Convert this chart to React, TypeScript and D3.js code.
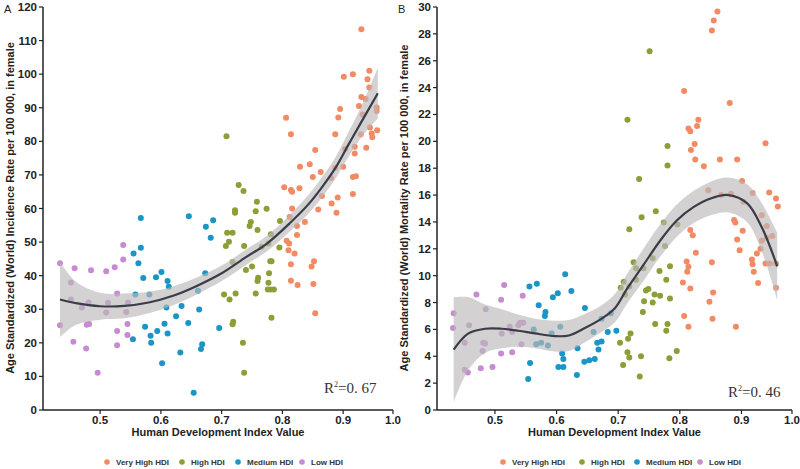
import React from "react";
import * as d3 from "d3";

const groupNames = ["Very High HDI", "High HDI", "Medium HDI", "Low HDI"];
const groupColors = ["#f28a64", "#8b9e37", "#1a95c6", "#c68bd0"];

// Panel A: incidence, female
const incVeryHighHdi = [0.930, 0.901, 0.916, 0.943, 0.940, 0.943, 0.930, 0.937, 0.895, 0.926, 0.955, 0.955, 0.892, 0.932, 0.806, 0.814, 0.887, 0.929, 0.944, 0.956, 0.947, 0.948, 0.938, 0.919, 0.903, 0.854, 0.919, 0.845, 0.829, 0.863, 0.850, 0.887, 0.900, 0.916, 0.921, 0.803, 0.814, 0.816, 0.828, 0.880, 0.865, 0.891, 0.881, 0.916, 0.859, 0.816, 0.837, 0.824, 0.812, 0.889, 0.824, 0.807, 0.811, 0.810, 0.820, 0.814, 0.852, 0.848, 0.814, 0.825, 0.851, 0.854];
const incVeryHighRate = [113.4, 99.2, 100.0, 101.0, 98.5, 96.0, 93.2, 92.6, 89.6, 90.5, 90.1, 89.0, 87.1, 88.0, 87.0, 82.1, 82.1, 82.1, 84.1, 83.3, 82.3, 81.2, 78.1, 78.4, 77.7, 77.4, 76.4, 73.2, 72.4, 70.9, 69.4, 72.1, 72.4, 69.4, 69.6, 66.3, 65.5, 65.0, 66.0, 69.1, 63.7, 63.3, 61.5, 64.3, 59.7, 60.0, 56.0, 54.8, 57.5, 58.7, 52.1, 50.4, 49.6, 47.6, 46.6, 43.4, 44.3, 42.7, 38.5, 37.2, 37.5, 28.8];
const incHighHdi = [0.708, 0.728, 0.736, 0.758, 0.722, 0.722, 0.756, 0.774, 0.796, 0.781, 0.746, 0.748, 0.759, 0.709, 0.718, 0.712, 0.707, 0.737, 0.766, 0.777, 0.795, 0.718, 0.740, 0.750, 0.780, 0.782, 0.760, 0.759, 0.778, 0.777, 0.776, 0.781, 0.786, 0.704, 0.713, 0.723, 0.756, 0.719, 0.718, 0.782, 0.735, 0.737];
const incHighRate = [81.5, 67.0, 65.2, 62.0, 59.5, 58.7, 59.2, 59.9, 56.3, 52.3, 54.8, 56.0, 53.6, 52.8, 52.8, 50.1, 48.8, 48.8, 48.6, 49.6, 48.4, 44.1, 41.7, 42.7, 44.3, 44.3, 39.4, 38.4, 40.7, 37.9, 35.9, 35.9, 35.9, 34.4, 32.9, 34.7, 34.7, 26.3, 25.5, 27.5, 20.0, 11.1];
const incMediumHdi = [0.567, 0.555, 0.567, 0.563, 0.571, 0.592, 0.601, 0.611, 0.613, 0.558, 0.581, 0.609, 0.634, 0.625, 0.574, 0.583, 0.594, 0.606, 0.611, 0.554, 0.584, 0.602, 0.632, 0.645, 0.663, 0.661, 0.673, 0.646, 0.674, 0.682, 0.686, 0.668, 0.666, 0.654, 0.696];
const incMediumRate = [57.2, 46.6, 48.3, 43.7, 39.3, 39.5, 41.1, 38.4, 36.7, 34.4, 34.4, 30.5, 31.0, 27.9, 24.8, 22.1, 23.5, 25.7, 22.8, 21.1, 20.0, 13.9, 17.1, 25.9, 29.9, 35.5, 40.7, 57.7, 54.6, 51.3, 56.5, 19.6, 18.2, 5.1, 24.4];
const incLowHdi = [0.434, 0.458, 0.485, 0.510, 0.524, 0.538, 0.538, 0.452, 0.452, 0.470, 0.481, 0.482, 0.478, 0.434, 0.456, 0.477, 0.496, 0.528, 0.513, 0.510, 0.528, 0.545, 0.545, 0.543, 0.546, 0.528];
const incLowRate = [43.7, 42.2, 41.6, 41.3, 42.5, 49.1, 44.8, 38.0, 32.9, 30.5, 32.0, 25.6, 25.4, 25.2, 20.3, 18.3, 11.1, 34.7, 31.9, 29.0, 19.3, 25.6, 22.3, 29.2, 32.0, 23.5];

const incTrendHdi = [0.434, 0.46, 0.5, 0.54, 0.58, 0.62, 0.66, 0.7, 0.74, 0.774, 0.812, 0.843, 0.865, 0.887, 0.908, 0.93, 0.957];
const incTrendRate = [32.9, 31.8, 30.9, 31.0, 32.0, 34.0, 37.0, 40.7, 45.5, 49.5, 55.6, 61.3, 66.3, 72.0, 78.8, 85.8, 94.3];
const incTrendHalfCI = [11.2, 6.5, 4.0, 3.7, 3.2, 2.8, 2.5, 2.3, 2.3, 2.3, 2.5, 2.8, 3.0, 3.2, 3.7, 4.6, 7.5];

// Panel B: mortality, female
const morVeryHighHdi = [0.861, 0.855, 0.852, 0.807, 0.881, 0.830, 0.828, 0.814, 0.817, 0.939, 0.824, 0.818, 0.825, 0.865, 0.893, 0.839, 0.901, 0.846, 0.918, 0.945, 0.956, 0.959, 0.867, 0.883, 0.903, 0.888, 0.890, 0.902, 0.933, 0.941, 0.950, 0.817, 0.821, 0.893, 0.826, 0.811, 0.814, 0.812, 0.805, 0.817, 0.854, 0.848, 0.853, 0.807, 0.814, 0.852, 0.897, 0.891, 0.917, 0.918, 0.925, 0.931, 0.920, 0.927, 0.939, 0.946, 0.956, 0.941, 0.933, 0.956];
const morVeryHighRate = [29.66, 29.0, 28.25, 23.75, 22.85, 21.6, 21.15, 20.95, 20.75, 19.85, 19.8, 19.35, 18.65, 18.65, 18.65, 18.15, 17.05, 16.35, 16.15, 16.2, 15.75, 15.15, 16.0, 16.1, 15.5, 14.15, 13.95, 13.35, 14.5, 13.7, 12.95, 13.4, 13.0, 12.7, 11.7, 11.05, 10.67, 10.3, 9.5, 9.05, 8.75, 8.05, 6.8, 7.0, 6.2, 11.0, 11.9, 6.2, 11.2, 10.85, 11.65, 12.0, 10.3, 9.45, 10.9, 10.9, 10.9, 12.8, 12.6, 9.1];
const morHighHdi = [0.751, 0.715, 0.780, 0.780, 0.734, 0.738, 0.761, 0.774, 0.718, 0.796, 0.776, 0.725, 0.756, 0.729, 0.741, 0.784, 0.709, 0.704, 0.718, 0.729, 0.767, 0.778, 0.711, 0.745, 0.749, 0.742, 0.759, 0.768, 0.756, 0.784, 0.740, 0.760, 0.780, 0.778, 0.703, 0.720, 0.716, 0.715, 0.718, 0.737, 0.708, 0.783, 0.795, 0.735];
const morHighRate = [26.7, 21.6, 19.65, 18.2, 17.2, 14.35, 14.8, 13.95, 13.45, 13.8, 12.2, 11.0, 11.3, 10.55, 10.55, 10.7, 9.55, 9.1, 9.2, 9.7, 10.35, 9.7, 8.6, 8.9, 9.0, 8.1, 8.6, 8.5, 8.0, 8.3, 7.3, 6.4, 6.4, 5.9, 5.0, 5.7, 5.3, 4.3, 3.9, 4.0, 3.35, 3.85, 4.4, 2.5];
const morMediumHdi = [0.614, 0.624, 0.556, 0.568, 0.571, 0.582, 0.581, 0.594, 0.602, 0.646, 0.563, 0.567, 0.575, 0.586, 0.592, 0.606, 0.609, 0.611, 0.603, 0.611, 0.557, 0.554, 0.634, 0.633, 0.645, 0.653, 0.662, 0.666, 0.673, 0.668, 0.673, 0.683, 0.688, 0.697, 0.660];
const morMediumRate = [10.1, 8.85, 9.2, 9.4, 7.8, 7.3, 7.0, 8.4, 8.7, 7.6, 6.0, 4.9, 5.0, 4.8, 5.7, 6.2, 4.2, 3.8, 3.2, 3.2, 3.5, 2.3, 4.6, 2.6, 3.6, 3.7, 3.8, 5.0, 5.1, 4.5, 6.8, 5.8, 7.2, 5.9, 5.8];
const morLowHdi = [0.433, 0.432, 0.458, 0.470, 0.485, 0.515, 0.510, 0.545, 0.451, 0.481, 0.480, 0.511, 0.524, 0.528, 0.538, 0.541, 0.546, 0.543, 0.510, 0.528, 0.451, 0.456, 0.477, 0.496, 0.484];
const morLowRate = [7.2, 6.1, 6.3, 8.6, 7.5, 9.3, 8.2, 8.5, 5.0, 5.0, 4.4, 5.7, 6.2, 5.8, 6.3, 6.5, 6.5, 4.9, 4.2, 4.3, 3.0, 2.8, 3.1, 3.2, 4.95];

const morTrendHdi = [0.433, 0.457, 0.484, 0.511, 0.538, 0.565, 0.597, 0.62, 0.646, 0.673, 0.695, 0.714, 0.741, 0.768, 0.795, 0.822, 0.85, 0.879, 0.909, 0.933, 0.958];
const morTrendRate = [4.5, 5.7, 6.05, 6.05, 5.9, 5.7, 5.5, 5.55, 6.1, 6.8, 7.6, 9.0, 10.8, 12.6, 14.1, 15.1, 15.75, 16.0, 15.4, 13.6, 10.7];
const morTrendHalfCI = [3.9, 2.7, 1.8, 1.45, 1.2, 1.1, 1.15, 1.15, 1.05, 1.0, 1.05, 1.1, 1.2, 1.2, 1.2, 1.2, 1.25, 1.3, 1.4, 1.8, 2.5];

const xTickValues = [0.5, 0.6, 0.7, 0.8, 0.9, 0.982];
const xTickLabels = ["0.5", "0.6", "0.7", "0.8", "0.9", "1.0"];
const incYTicks = d3.range(0, 121, 10);
const morYTicks = d3.range(0, 31, 2);

const sans = "'Liberation Sans', Arial, sans-serif";

type Props = {
  x0: number;
  x1: number;
  letter: string;
  yMax: number;
  yTicks: number[];
  yTitle: string;
  groups: { hdi: number[]; rate: number[] }[];
  trendHdi: number[];
  trendRate: number[];
  trendCI: number[];
  r2: string;
  r2x: number;
  r2y: number;
  legendX: number[];
};

function Panel(p: Props) {
  const x = d3.scaleLinear().domain([0.406, 0.982]).range([p.x0, p.x1]);
  const y = d3.scaleLinear().domain([0, p.yMax]).range([410, 7]);
  const trend = p.trendHdi.map((h, i) => ({ h, v: p.trendRate[i], ci: p.trendCI[i] }));
  const line = d3.line<any>().x((d) => x(d.h)).y((d) => y(d.v)).curve(d3.curveCatmullRom);
  const band = d3
    .area<any>()
    .x((d) => x(d.h))
    .y0((d) => y(d.v - d.ci))
    .y1((d) => y(d.v + d.ci))
    .curve(d3.curveCatmullRom);
  const midX = (p.x0 + p.x1) / 2;

  return (
    <g>
      <text x={p.x0 - 39} y={13} fontFamily={sans} fontSize={11} fill="#222">{p.letter}</text>
      {/* points, then the CI band over them */}
      {p.groups.map((g, gi) =>
        g.hdi.map((h, i) => (
          <circle key={gi + "-" + i} cx={x(h)} cy={y(g.rate[i])} r={3} fill={groupColors[gi]} />
        ))
      )}
      <path d={band(trend) || ""} fill="#bcb9b8" opacity={0.65} />
      <path d={line(trend) || ""} fill="none" stroke="#3a3d48" strokeWidth={2.2} />

      {/* axes */}
      <line x1={p.x0} x2={p.x0} y1={y(p.yMax)} y2={410} stroke="#222" strokeWidth={1.5} />
      <line x1={p.x0} x2={p.x1} y1={410} y2={410} stroke="#222" strokeWidth={1.5} />
      {p.yTicks.map((t) => (
        <g key={"y" + t}>
          <line x1={p.x0 - 4} x2={p.x0} y1={y(t)} y2={y(t)} stroke="#222" strokeWidth={1.2} />
          <text x={p.x0 - 6} y={y(t) + 4} textAnchor="end" fontFamily={sans} fontWeight="bold" fontSize={11.5} fill="#222">
            {t}
          </text>
        </g>
      ))}
      {xTickValues.map((t, i) => (
        <g key={"x" + t}>
          <line x1={x(t)} x2={x(t)} y1={410} y2={414} stroke="#222" strokeWidth={1.2} />
          <text x={x(t)} y={424} textAnchor="middle" fontFamily={sans} fontWeight="bold" fontSize={11.5} fill="#222">
            {xTickLabels[i]}
          </text>
        </g>
      ))}
      <text x={midX} y={435.5} textAnchor="middle" fontFamily={sans} fontWeight="bold" fontSize={11} fill="#222">
        Human Development Index Value
      </text>
      <text
        transform={`translate(${p.x0 - 29},208) rotate(-90)`}
        textAnchor="middle"
        fontFamily={sans}
        fontWeight="bold"
        fontSize={11}
        fill="#222"
      >
        {p.yTitle}
      </text>
      <text x={p.r2x} y={p.r2y} fontFamily="'Liberation Serif', 'Times New Roman', serif" fontSize={15} fill="#333">
        R<tspan fontSize={8} dy={-6}>2</tspan>
        <tspan dy={6}>{p.r2}</tspan>
      </text>

      {/* legend */}
      {groupNames.map((name, i) => (
        <g key={name}>
          <circle cx={p.legendX[i]} cy={462} r={2.8} fill={groupColors[i]} />
          <text x={p.legendX[i] + 9} y={465} fontFamily={sans} fontWeight="bold" fontSize={8} fill="#333">
            {name}
          </text>
        </g>
      ))}
    </g>
  );
}

export default function App() {
  return (
    <svg width={800} height={469} style={{ position: "absolute", left: 0, top: 0, background: "#fff" }}>
      <Panel
        x0={43}
        x1={393}
        letter="A"
        yMax={120}
        yTicks={incYTicks}
        yTitle="Age Standardized (World) Incidence Rate per 100 000, in female"
        groups={[
          { hdi: incVeryHighHdi, rate: incVeryHighRate },
          { hdi: incHighHdi, rate: incHighRate },
          { hdi: incMediumHdi, rate: incMediumRate },
          { hdi: incLowHdi, rate: incLowRate },
        ]}
        trendHdi={incTrendHdi}
        trendRate={incTrendRate}
        trendCI={incTrendHalfCI}
        r2="=0. 67"
        r2x={324}
        r2y={392.5}
        legendX={[107, 182, 238, 302]}
      />
      <Panel
        x0={437}
        x1={792}
        letter="B"
        yMax={30}
        yTicks={morYTicks}
        yTitle="Age Standardized (World) Mortality Rate per 100 000, in female"
        groups={[
          { hdi: morVeryHighHdi, rate: morVeryHighRate },
          { hdi: morHighHdi, rate: morHighRate },
          { hdi: morMediumHdi, rate: morMediumRate },
          { hdi: morLowHdi, rate: morLowRate },
        ]}
        trendHdi={morTrendHdi}
        trendRate={morTrendRate}
        trendCI={morTrendHalfCI}
        r2="=0. 46"
        r2x={728}
        r2y={396.5}
        legendX={[503, 582, 637, 700]}
      />
    </svg>
  );
}
